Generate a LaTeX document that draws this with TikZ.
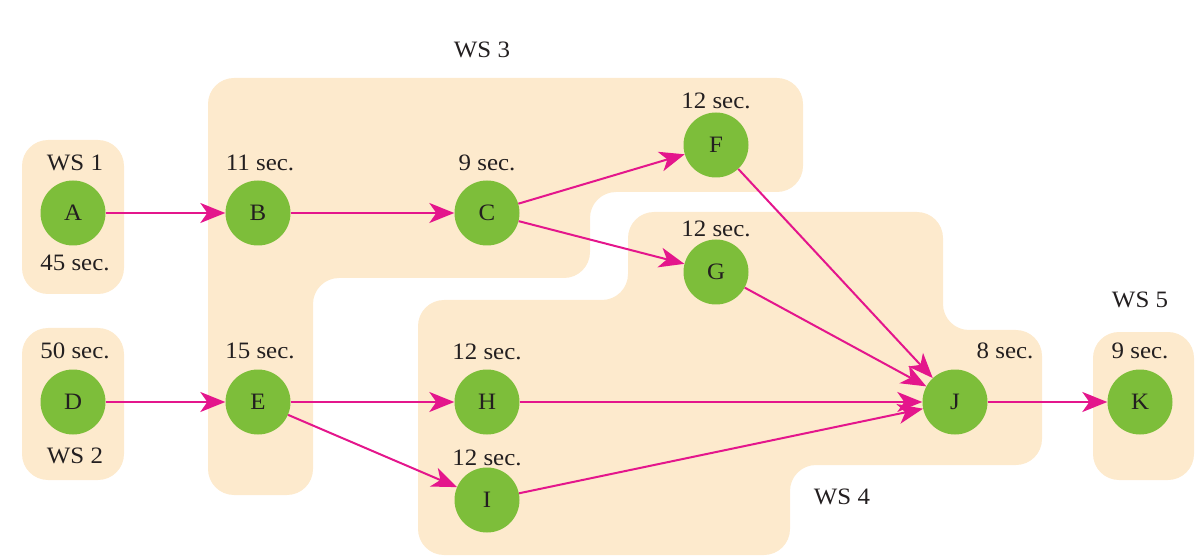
\documentclass[tikz,border=0pt]{standalone}
\usepackage{fontspec}
\setmainfont{Liberation Serif}[FakeStretch=1.06]
\usetikzlibrary{arrows.meta}
\definecolor{zonefill}{RGB}{253,234,205}
\definecolor{taskfill}{RGB}{125,190,58}
\definecolor{linkcol}{RGB}{228,22,140}
\definecolor{inkcol}{RGB}{35,31,32}
\begin{document}
\begin{tikzpicture}[x=1pt,y=-1pt,
  task/.style={circle, fill=taskfill, minimum size=65pt, inner sep=0pt,
    text=inkcol, font=\fontsize{23.5}{25}\selectfont},
  lbl/.style={inner sep=0pt, text=inkcol, font=\fontsize{23.5}{25}\selectfont},
  zone/.style={fill=zonefill, rounded corners=26pt},
  flow/.style={draw=linkcol, line width=2pt,
    -{Stealth[length=25pt,width=20pt,inset=7pt]}}]
\useasboundingbox (0,0) rectangle (1195,556);

% workstation zones
\path[zone] (22,140) rectangle (124,294);
\path[zone] (22,328) rectangle (124,480);
\path[zone] (1093,332) rectangle (1194,480);
\path[zone] (208,78) -- (803,78) -- (803,192) -- (590,192) -- (590,278)
  -- (313,278) -- (313,495) -- (208,495) -- cycle;
\path[zone] (628,212) -- (943,212) -- (943,330) -- (1042,330) -- (1042,465)
  -- (790,465) -- (790,555) -- (418,555) -- (418,300) -- (628,300) -- cycle;

% tasks
\node[task] (A) at (73,213) {A};
\node[task] (B) at (258,213) {B};
\node[task] (C) at (487,213) {C};
\node[task] (F) at (716,145) {F};
\node[task] (G) at (716,272) {G};
\node[task] (D) at (73,402) {D};
\node[task] (E) at (258,402) {E};
\node[task] (H) at (487,402) {H};
\node[task] (I) at (487,500) {I};
\node[task] (J) at (955,402) {J};
\node[task] (K) at (1140,402) {K};

% times and station names
\node[lbl] (ws1) at (75,163) {WS 1};
\node[lbl] (tA) at (75,263) {45 sec.};
\node[lbl] (tD) at (75,351) {50 sec.};
\node[lbl] (ws2) at (75,456) {WS 2};
\node[lbl] (tB) at (260,163) {11 sec.};
\node[lbl] (tE) at (260,351) {15 sec.};
\node[lbl] (tC) at (487,163) {9 sec.};
\node[lbl] (tF) at (716,101) {12 sec.};
\node[lbl] (tG) at (716,229) {12 sec.};
\node[lbl] (tH) at (487,352) {12 sec.};
\node[lbl] (tI) at (487,458) {12 sec.};
\node[lbl] (tJ) at (1005,351) {8 sec.};
\node[lbl] (tK) at (1140,351) {9 sec.};
\node[lbl] (ws5) at (1140,300) {WS 5};
\node[lbl] (ws3) at (482,50) {WS 3};
\node[lbl] (ws4) at (842,497) {WS 4};

% precedence
\draw[flow] (A) -- (B);
\draw[flow] (B) -- (C);
\draw[flow] (C) -- (F);
\draw[flow] (C) -- (G);
\draw[flow] (D) -- (E);
\draw[flow] (E) -- (H);
\draw[flow] (E) -- (I);
\draw[flow] (F) -- (J);
\draw[flow] (G) -- (J);
\draw[flow] (H) -- (J);
\draw[flow] (I) -- (J);
\draw[flow] (J) -- (K);
\end{tikzpicture}
\end{document}
